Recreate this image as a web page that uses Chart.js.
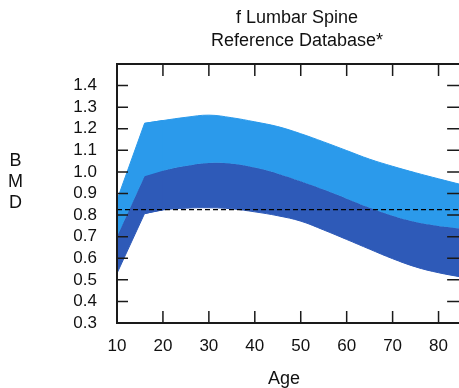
<!DOCTYPE html>
<html>
<head>
<meta charset="utf-8">
<script src="https://cdn.jsdelivr.net/npm/chart.js@4.4.1/dist/chart.umd.min.js"></script>
<style>
  html, body { margin: 0; padding: 0; background: #fff; overflow: hidden; }
  #wrap { width: 461px; height: 388px; }
</style>
</head>
<body>
<div id="wrap"><canvas id="bmd-chart" width="461" height="388"></canvas></div>
<script>
// Valeurs
const ages      = [10,    16,    20,    25,    30,    35,    40,    45,    50,    55,    60,    65,    70,    75,    80,    85];
const upperBmd  = [0.87,  1.225, 1.238, 1.253, 1.263, 1.251, 1.232, 1.21,  1.177, 1.139, 1.099, 1.059, 1.026, 0.996, 0.968, 0.941];
const meanBmd   = [0.70,  0.98,  1.005, 1.027, 1.041, 1.038, 1.02,  0.992, 0.957, 0.918, 0.876, 0.834, 0.797, 0.768, 0.75,  0.738];
const lowerBmd  = [0.53,  0.807, 0.824, 0.832, 0.834, 0.829, 0.815, 0.797, 0.772, 0.731, 0.687, 0.642, 0.598, 0.56,  0.533, 0.513];
const patientBmd = 0.825;
const xTicks = [10, 20, 30, 40, 50, 60, 70, 80];
const yTicks = [0.3, 0.4, 0.5, 0.6, 0.7, 0.8, 0.9, 1.0, 1.1, 1.2, 1.3, 1.4, 1.5];

const LIGHT = '#2b9aeb';
const DARK = '#2e5ab8';
const FONT = '"Liberation Sans", Arial, sans-serif';

function pts(values, from, to) {
    return ages.slice(from, to).map((a, i) => ({ x: a, y: values[from + i] }));
}

// partie droite 10-20 (coin net à 16) puis courbe lissée
function band(from, to, smooth) {
    const base = { pointRadius: 0, borderWidth: 1, tension: smooth ? 0.4 : 0 };
    return [
        { ...base, data: pts(upperBmd, from, to), borderColor: LIGHT, backgroundColor: LIGHT, fill: '+1' },
        { ...base, data: pts(meanBmd, from, to), borderColor: DARK, backgroundColor: DARK, fill: '+1' },
        { ...base, data: pts(lowerBmd, from, to), borderColor: DARK, fill: false }
    ];
}

const frameTicks = {
    id: 'frameTicks',
    afterDraw(chart) {
        const { ctx, chartArea: a, scales: { x, y } } = chart;
        ctx.save();
        ctx.strokeStyle = '#1a1a1a';
        ctx.lineWidth = 1.5;
        ctx.beginPath();
        xTicks.forEach(v => {
            const px = x.getPixelForValue(v);
            ctx.moveTo(px, a.top); ctx.lineTo(px, a.top + 12);
            ctx.moveTo(px, a.bottom); ctx.lineTo(px, a.bottom - 12);
        });
        yTicks.forEach(v => {
            const py = y.getPixelForValue(v);
            ctx.moveTo(a.left, py); ctx.lineTo(a.left + 11, py);
            ctx.moveTo(a.right, py); ctx.lineTo(a.right - 13, py);
        });
        ctx.stroke();
        ctx.lineWidth = 2;
        ctx.strokeRect(a.left, a.top, a.right - a.left, a.bottom - a.top);

        ctx.fillStyle = '#111';
        ctx.font = '18px ' + FONT;
        ctx.textAlign = 'center';
        ctx.textBaseline = 'alphabetic';
        ctx.fillText('f Lumbar Spine', 297, 23);
        ctx.fillText('Reference Database*', 297, 46);
        ['B', 'M', 'D'].forEach((ch, i) => ctx.fillText(ch, 15.5, 166 + i * 21));
        ctx.fillText('Age', 284, 384);
        ctx.restore();
    }
};

new Chart(document.getElementById('bmd-chart').getContext('2d'), {
    type: 'line',
    data: {
        datasets: [
            { data: [{ x: 10, y: patientBmd }, { x: 85, y: patientBmd }], borderColor: '#000',
              borderWidth: 1.3, borderDash: [5, 3], pointRadius: 0, fill: false },
            ...band(0, 3, false),
            ...band(1, ages.length, true)
        ]
    },
    options: {
        responsive: false, animation: false,
        layout: { padding: { top: 64, left: 0, right: 0, bottom: 0 } },
        plugins: { legend: { display: false }, tooltip: { enabled: false } },
        scales: {
            x: {
                type: 'linear', min: 10, max: 84.7,
                grid: { display: false, drawTicks: false }, border: { display: false },
                afterFit: s => { s.height = 65; },
                afterBuildTicks: s => { s.ticks = xTicks.map(v => ({ value: v })); },
                ticks: { padding: 13, color: '#111', font: { size: 17, family: FONT }, maxRotation: 0,
                         callback: v => String(v) }
            },
            y: {
                min: 0.3, max: 1.5,
                grid: { display: false, drawTicks: false }, border: { display: false },
                afterFit: s => { s.width = 117; },
                afterBuildTicks: s => { s.ticks = yTicks.slice(0, -1).map(v => ({ value: v })); },
                ticks: { padding: 20, color: '#111', font: { size: 17, family: FONT },
                         callback: v => v.toFixed(1) }
            }
        }
    },
    plugins: [frameTicks]
});
</script>
</body>
</html>
